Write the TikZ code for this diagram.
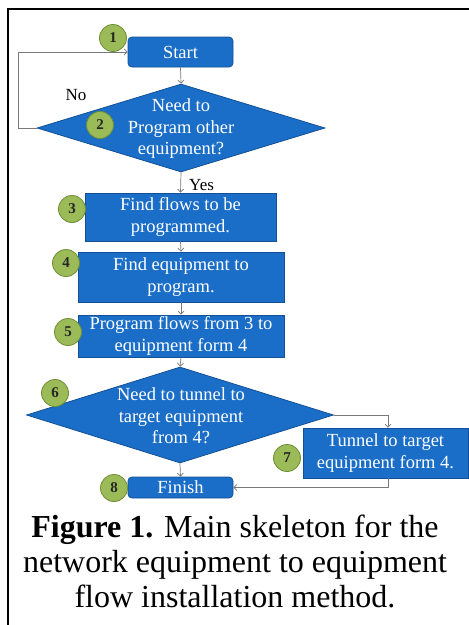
\documentclass[tikz,border=0pt]{standalone}
\usepackage{fontspec}
\setmainfont{Liberation Serif}
\usetikzlibrary{shapes.geometric,arrows.meta}
\definecolor{boxblue}{RGB}{26,110,200}
\definecolor{boxedge}{RGB}{20,80,150}
\definecolor{numgreen}{RGB}{155,187,89}
\definecolor{numedge}{RGB}{110,140,50}
\definecolor{linegray}{RGB}{120,120,120}
\tikzset{
  x=1pt, y=-1pt,
  flowbox/.style={draw=boxedge, line width=0.8pt, fill=boxblue, text=white, inner sep=0pt,
    font=\fontsize{18.5}{21.5}\selectfont, align=center},
  termbox/.style={flowbox, rounded corners=4pt},
  decbox/.style={diamond, draw=boxedge, line width=0.8pt, fill=boxblue, inner sep=0pt},
  dectext/.style={text=white, font=\fontsize{18.5}{21.5}\selectfont, align=center, inner sep=0pt},
  numcirc/.style={circle, draw=numedge, line width=0.8pt, fill=numgreen, minimum size=27pt, inner sep=0pt,
    font=\fontsize{15}{15}\selectfont\bfseries, text=black!85},
  conn/.style={draw=linegray, line width=0.7pt, -{Straight Barb[length=3pt,width=6pt]}},
  lbl/.style={font=\fontsize{17}{17}\selectfont, inner sep=0pt}
}
\begin{document}
\begin{tikzpicture}
\useasboundingbox (0,0) rectangle (469,625);
\fill[white] (0,0) rectangle (469,625);
% frame
\draw[line width=2pt] (7.5,625) -- (7.5,9) -- (469,9);

% nodes
\node[termbox, minimum width=105pt, minimum height=30pt] (start) at (180.5,52) {Start};
\node[decbox, minimum width=288pt, minimum height=88pt] (d2) at (181,128) {};
\node[dectext] (d2t) at (181,129) {Need to\\Program other\\equipment?};
\node[flowbox, minimum width=191pt, minimum height=48pt] (b3) at (180.5,217) {Find flows to be\\programmed.};
\node[flowbox, minimum width=206pt, minimum height=50pt] (b4) at (181,277) {Find equipment to\\program.};
\node[flowbox, minimum width=206pt, minimum height=42pt] (b5) at (181,336) {Program flows from 3 to\\equipment form 4};
\node[decbox, minimum width=307pt, minimum height=96pt] (d6) at (180,415) {};
\node[dectext] (d6t) at (181,416) {Need to tunnel to\\target equipment\\from 4?};
\node[flowbox, minimum width=165pt, minimum height=50pt] (b7) at (385.5,453) {Tunnel to target\\equipment form 4.};
\node[termbox, minimum width=105pt, minimum height=21pt] (fin) at (180.5,487.5) {Finish};

% number circles
\node[numcirc] (n1) at (113,38) {1};
\node[numcirc] (n2) at (100,125) {2};
\node[numcirc] (n3) at (72,209) {3};
\node[numcirc] (n4) at (66,263) {4};
\node[numcirc] (n5) at (68,332) {5};
\node[numcirc] (n6) at (55,393) {6};
\node[numcirc] (n7) at (287,458) {7};
\node[numcirc] (n8) at (114,488) {8};

% connectors
\coordinate (loopL) at (18,128);
\draw[conn] (d2.west) -- (loopL) |- (start.west);
\node[lbl] (no) at (76,95) {No};
\draw[conn] (start.south) -- (d2.north);
\draw[conn] (d2.south) -- (b3.north);
\node[lbl, anchor=west] (yes) at (189,185) {Yes};
\draw[conn] (b3.south) -- (b4.north);
\draw[conn] (b4.south) -- (b5.north);
\draw[conn] (b5.south) -- (d6.north);
\coordinate (r6) at (388,415);
\draw[conn] (d6.east) -- (r6) -- (r6 |- b7.north);
\draw[conn] (d6.south) -- (fin.north);
\coordinate (b7b) at (388,478);
\draw[conn] (b7b) |- (fin.east);

% caption
\node[align=center, inner sep=0pt, font=\fontsize{32}{35}\selectfont] (cap) at (235,561)
  {\textbf{Figure 1.} Main skeleton for the\\network equipment to equipment\\flow installation method.};
\end{tikzpicture}
\end{document}
